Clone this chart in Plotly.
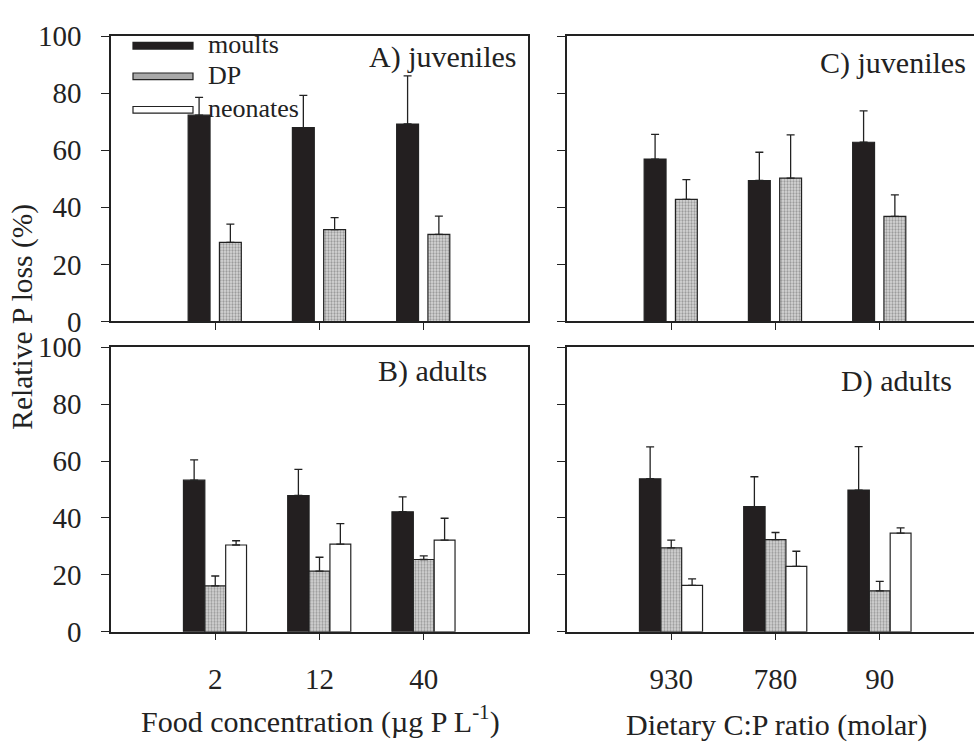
import plotly.graph_objects as go

# ---------------- data ----------------
food_conc = ["2", "12", "40"]
cp_ratio = ["930", "780", "90"]

juv_food_moults = [72.3, 67.9, 69.2]
juv_food_moults_err = [6.2, 11.3, 16.9]
juv_food_dp = [27.7, 32.2, 30.5]
juv_food_dp_err = [6.4, 4.2, 6.4]

ad_food_moults = [53.3, 47.9, 42.2]
ad_food_moults_err = [7.1, 9.2, 5.2]
ad_food_dp = [16.1, 21.3, 25.4]
ad_food_dp_err = [3.5, 4.9, 1.3]
ad_food_neo = [30.5, 30.8, 32.2]
ad_food_neo_err = [1.5, 7.2, 7.7]

juv_cp_moults = [56.9, 49.4, 62.8]
juv_cp_moults_err = [8.7, 9.9, 11.0]
juv_cp_dp = [42.8, 50.2, 36.8]
juv_cp_dp_err = [6.9, 15.2, 7.6]

ad_cp_moults = [53.8, 44.0, 49.8]
ad_cp_moults_err = [11.2, 10.5, 15.3]
ad_cp_dp = [29.5, 32.4, 14.4]
ad_cp_dp_err = [2.7, 2.5, 3.3]
ad_cp_neo = [16.3, 23.0, 34.7]
ad_cp_neo_err = [2.3, 5.3, 1.8]

series_names = ["moults", "DP", "neonates"]
y_ticks = [0, 20, 40, 60, 80, 100]

# ---------------- styling ----------------
W, H = 974, 755
FONT = "Liberation Serif"
INK = "#222222"
BLACK = "#231f20"
GREY = "#b4b4b4"


def fx(x):
    return x / W


def fy(y):
    return 1 - y / H


def style_for(name):
    if name == "moults":
        return dict(color=BLACK, line=dict(color=INK, width=1.2))
    if name == "DP":
        return dict(color=GREY, line=dict(color=INK, width=1.2),
                    pattern=dict(shape=".", size=3, solidity=0.45,
                                 fgcolor="#5a5a5a", bgcolor="#d8d8d8"))
    return dict(color="white", line=dict(color=INK, width=1.2))


fig = go.Figure()


def add_bar(name, cats, vals, errs, xa, ya, offset, width):
    fig.add_trace(go.Bar(
        x=cats, y=vals, name=name, xaxis=xa, yaxis=ya,
        offset=offset, width=width, marker=style_for(name),
        showlegend=False,
        error_y=dict(type="data", symmetric=False, array=errs,
                     arrayminus=[0] * len(errs), color=INK,
                     thickness=1.3, width=4),
    ))


# panel A (juveniles, food)
add_bar("moults", food_conc, juv_food_moults, juv_food_moults_err, "x", "y", -0.26, 0.21)
add_bar("DP", food_conc, juv_food_dp, juv_food_dp_err, "x", "y", 0.04, 0.21)
# panel B (adults, food)
add_bar("moults", food_conc, ad_food_moults, ad_food_moults_err, "x2", "y2", -0.305, 0.205)
add_bar("DP", food_conc, ad_food_dp, ad_food_dp_err, "x2", "y2", -0.10, 0.20)
add_bar("neonates", food_conc, ad_food_neo, ad_food_neo_err, "x2", "y2", 0.10, 0.20)
# panel C (juveniles, C:P)
add_bar("moults", cp_ratio, juv_cp_moults, juv_cp_moults_err, "x3", "y3", -0.26, 0.21)
add_bar("DP", cp_ratio, juv_cp_dp, juv_cp_dp_err, "x3", "y3", 0.04, 0.21)
# panel D (adults, C:P)
add_bar("moults", cp_ratio, ad_cp_moults, ad_cp_moults_err, "x4", "y4", -0.305, 0.205)
add_bar("DP", cp_ratio, ad_cp_dp, ad_cp_dp_err, "x4", "y4", -0.10, 0.20)
add_bar("neonates", cp_ratio, ad_cp_neo, ad_cp_neo_err, "x4", "y4", 0.10, 0.20)

# ---------------- axes ----------------
xA = [fx(111), fx(528)]
xC = [fx(567), 1.0]
unit_px = (528 - 111) / 4.0
rangeA = [-1, 3]
rangeC = [-1, -1 + (W - 567) / unit_px]
yTop = [fy(319), fy(21)]
yBot = [fy(643), fy(346)]

tickfont = dict(family=FONT, size=29, color=INK)


def xaxis(domain, rng, anchor, show_labels):
    return dict(domain=domain, range=rng, anchor=anchor, type="category",
                showline=True, linecolor=INK, linewidth=1.5, mirror=True,
                ticks="outside", ticklen=7, tickwidth=1.3, tickcolor=INK,
                showticklabels=show_labels, tickfont=tickfont,
                ticklabelstandoff=14, showgrid=False, zeroline=False,
                fixedrange=True)


def yaxis(domain, anchor, show_labels, mirror):
    return dict(domain=domain, range=[0, 100], anchor=anchor,
                tickvals=y_ticks, showline=True, linecolor=INK,
                linewidth=1.5, mirror=mirror, ticks="outside", ticklen=8,
                tickwidth=1.3, tickcolor=INK, showticklabels=show_labels,
                tickfont=tickfont, ticklabelstandoff=14, showgrid=False,
                zeroline=False, fixedrange=True)


fig.update_layout(
    width=W, height=H,
    margin=dict(l=0, r=0, t=0, b=0),
    paper_bgcolor="white", plot_bgcolor="white",
    barmode="overlay",
    font=dict(family=FONT, color=INK),
    xaxis=xaxis(xA, rangeA, "y", False),
    xaxis2=xaxis(xA, rangeA, "y2", True),
    xaxis3=xaxis(xC, rangeC, "y3", False),
    xaxis4=xaxis(xC, rangeC, "y4", True),
    yaxis=yaxis(yTop, "x", True, True),
    yaxis2=yaxis(yBot, "x2", True, True),
    yaxis3=yaxis(yTop, "x3", False, False),
    yaxis4=yaxis(yBot, "x4", False, False),
)

# ---------------- annotations ----------------
ann = []
panel_labels = [("A) juveniles", 518, 43), ("B) adults", 489, 371),
                ("C) juveniles", 968, 49), ("D) adults", 954, 381)]
for txt, xr, yc in panel_labels:
    ann.append(dict(text=txt, x=fx(xr), y=fy(yc), xref="paper", yref="paper",
                    xanchor="right", yanchor="middle", showarrow=False,
                    font=dict(family=FONT, size=30, color=INK)))

ann.append(dict(text="Relative P loss (%)", x=fx(23), y=fy(314),
                xref="paper", yref="paper", textangle=-90,
                xanchor="center", yanchor="middle", showarrow=False,
                font=dict(family=FONT, size=29.5, color=INK)))
ann.append(dict(text="Food concentration (\u00b5g P L<sup>-1</sup>)",
                x=fx(320), y=fy(735), xref="paper", yref="paper",
                xanchor="center", yanchor="middle", showarrow=False,
                font=dict(family=FONT, size=30, color=INK)))
ann.append(dict(text="Dietary C:P ratio (molar)",
                x=fx(776), y=fy(740), xref="paper", yref="paper",
                xanchor="center", yanchor="middle", showarrow=False,
                font=dict(family=FONT, size=30, color=INK)))

# custom legend in panel A
shapes = []
legend_rows = [31, 63, 98]
for name, yc in zip(series_names, legend_rows):
    st = style_for(name)
    shape = dict(type="rect", xref="paper", yref="paper",
                 x0=fx(133), x1=fx(193), y0=fy(yc - 3.5), y1=fy(yc + 3.5),
                 fillcolor=st["color"] if name != "DP" else "#a9a9a9",
                 line=dict(color=INK, width=1.2))
    shapes.append(shape)
    ann.append(dict(text=name, x=fx(206), y=fy(yc - 1), xref="paper",
                    yref="paper", xanchor="left", yanchor="middle",
                    showarrow=False,
                    font=dict(family=FONT, size=26, color=INK)))

fig.update_layout(annotations=ann, shapes=shapes)

# remove the default 8px page margin so the figure sits at the window origin
fig.write_html("out.html",
               post_script="document.body.style.margin='0px';",
               config={"displayModeBar": False})
